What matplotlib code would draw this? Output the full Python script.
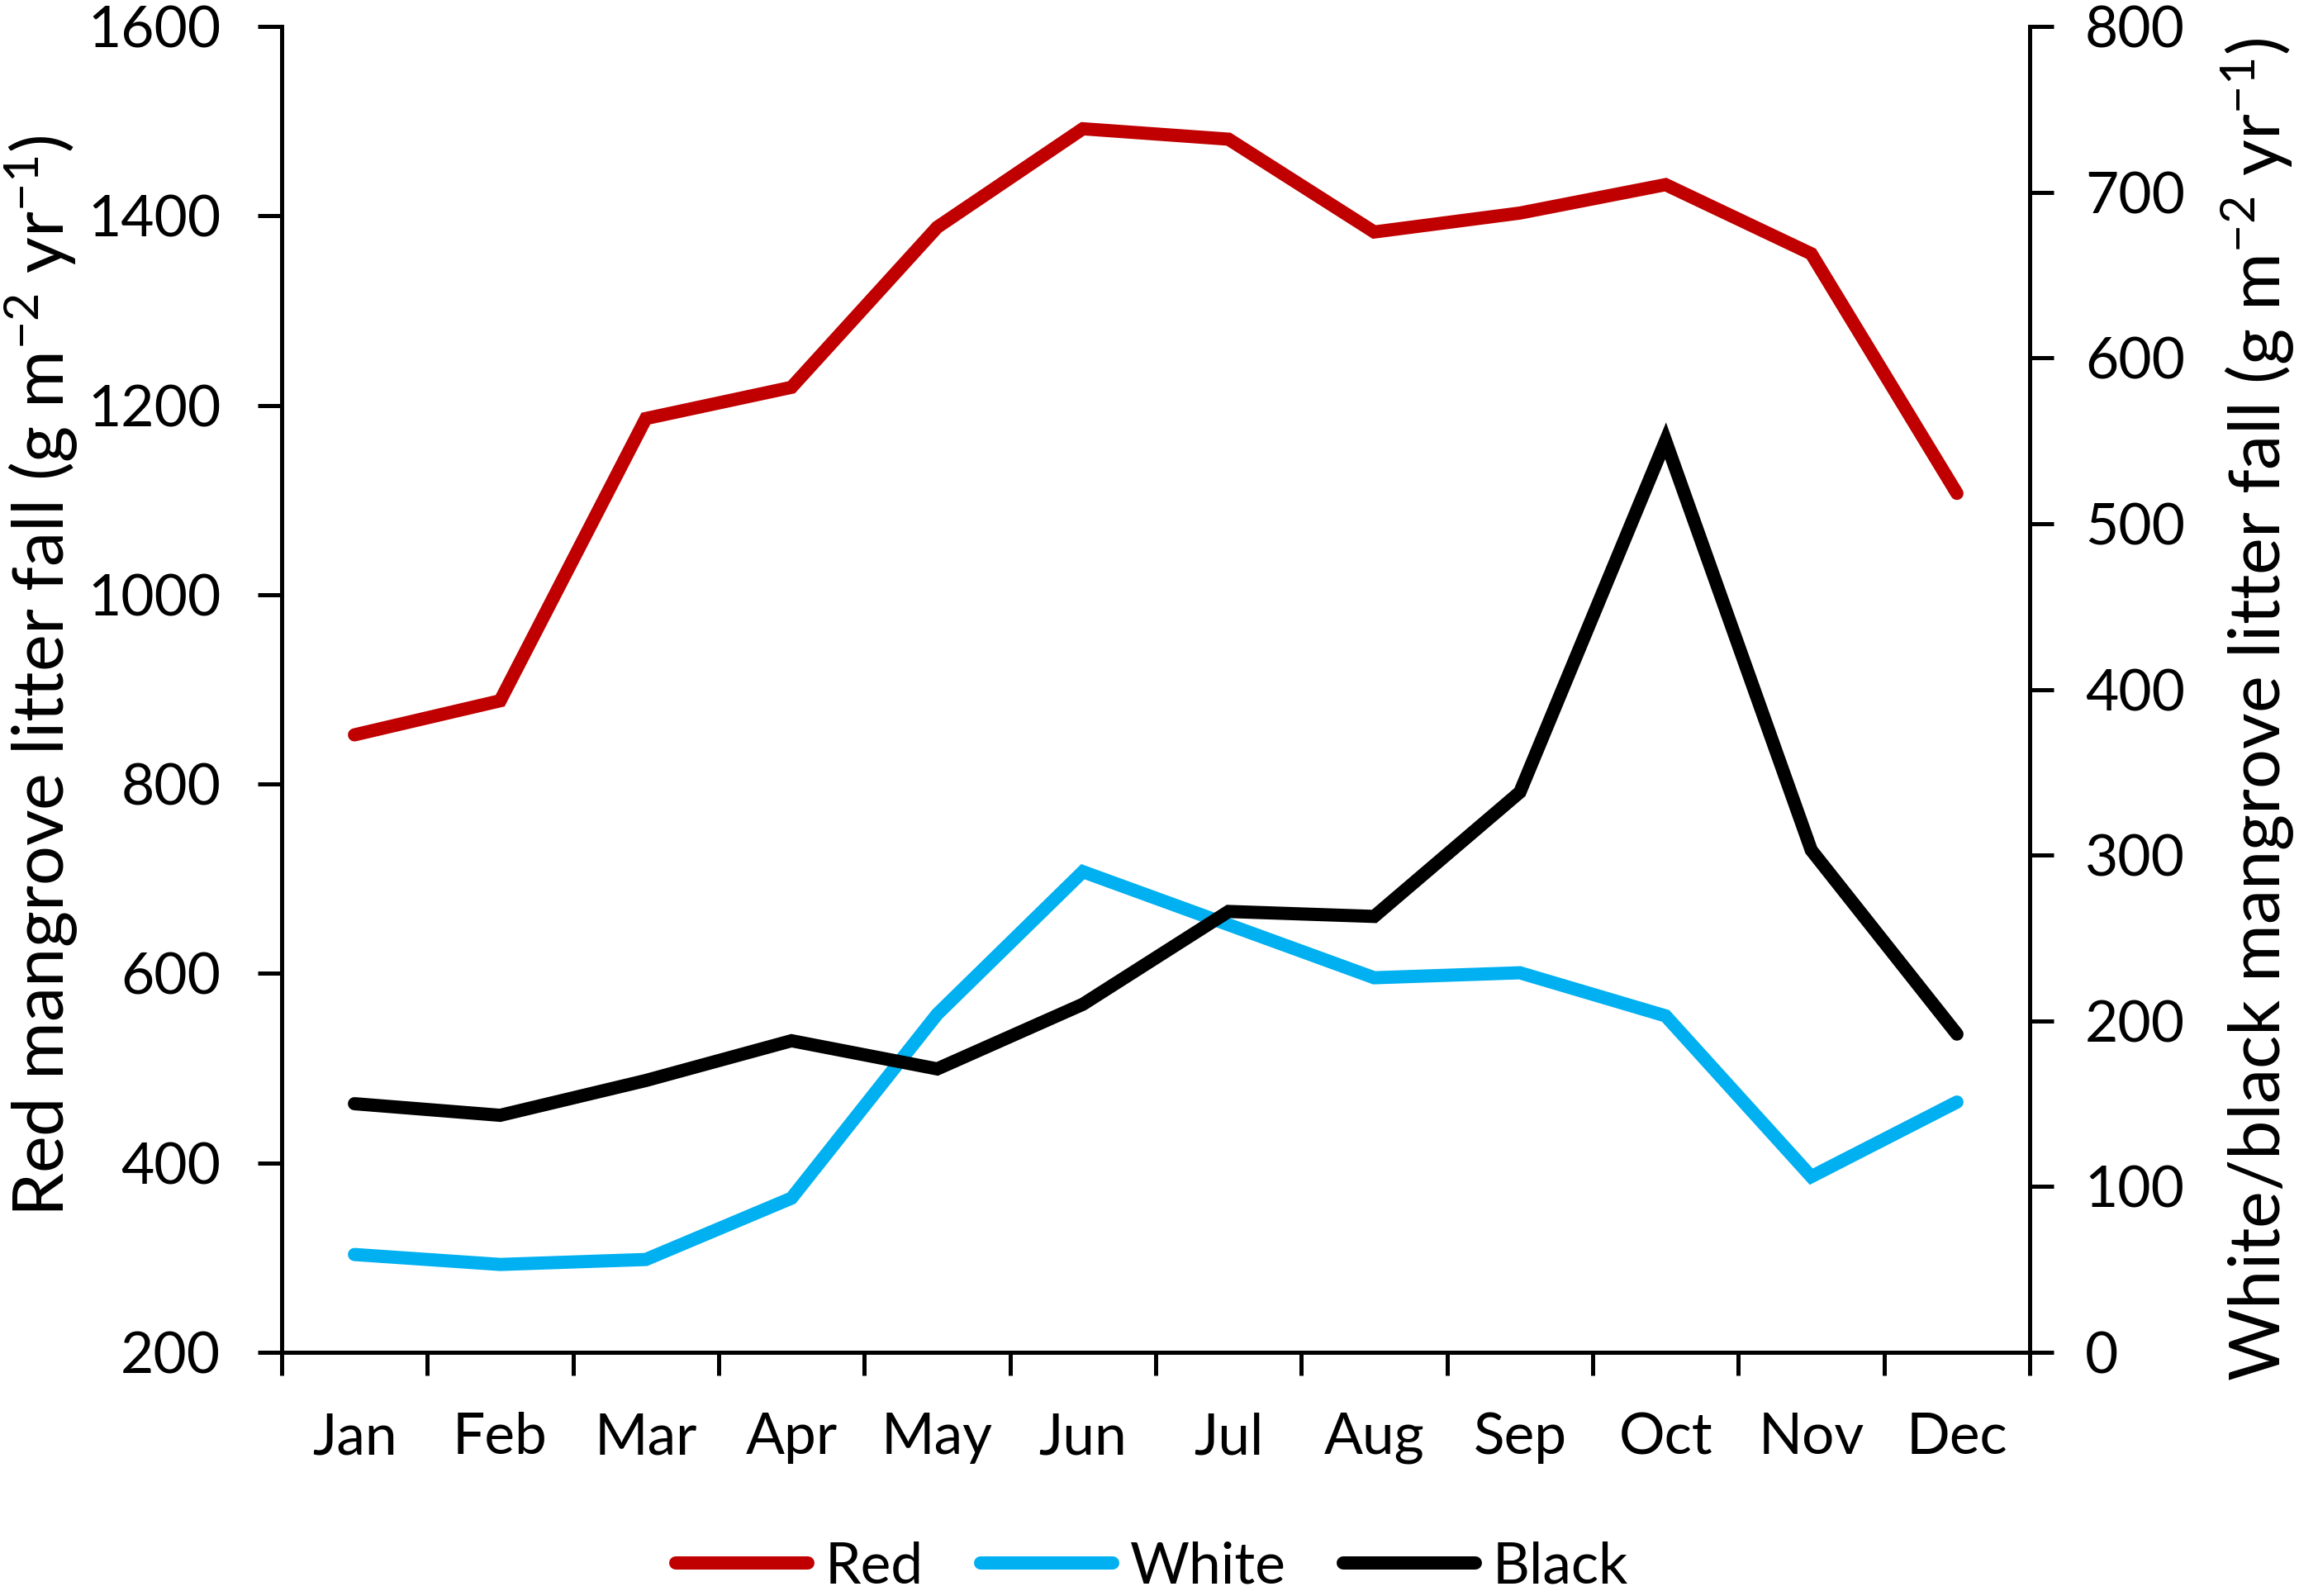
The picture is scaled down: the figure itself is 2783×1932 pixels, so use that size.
import matplotlib
matplotlib.use("Agg")
import matplotlib.pyplot as plt
from matplotlib.ticker import FixedLocator, NullFormatter, FixedFormatter

plt.rcParams['font.family'] = ['Lato', 'DejaVu Sans']
plt.rcParams['mathtext.default'] = 'regular'

# monthly litter fall values
months = ["Jan", "Feb", "Mar", "Apr", "May", "Jun",
          "Jul", "Aug", "Sep", "Oct", "Nov", "Dec"]
red = [852, 888, 1186, 1219, 1388, 1492, 1481, 1383, 1403, 1433, 1360, 1107]
white = [59, 53, 56, 93, 204, 290, 258, 226, 229, 203, 106, 151]
black = [150, 143, 164, 188, 171, 210, 266, 263, 338, 550, 303, 192]

left_ticks = [200, 400, 600, 800, 1000, 1200, 1400, 1600]
right_ticks = [0, 100, 200, 300, 400, 500, 600, 700, 800]

fs = 50
lab_fs = 61
lw = 11.5

fig = plt.figure(figsize=(27.83, 19.32), dpi=100)
ax = fig.add_axes([0.1225, 0.1527, 0.8829 - 0.1225, 0.9834 - 0.1527])
ax2 = ax.twinx()

x = list(range(len(months)))
l1, = ax.plot(x, red, color="#C00000", lw=lw, solid_capstyle="round",
              solid_joinstyle="miter", label="Red")
l2, = ax2.plot(x, white, color="#00B0F0", lw=lw, solid_capstyle="round",
               solid_joinstyle="miter", label="White")
l3, = ax2.plot(x, black, color="#000000", lw=lw, solid_capstyle="round",
               solid_joinstyle="miter", label="Black")

ax.set_xlim(-0.5, 11.5)
ax.set_ylim(200, 1600)
ax2.set_ylim(0, 800)
ax.set_yticks(left_ticks)
ax2.set_yticks(right_ticks)

# month boundaries get tick marks, month centres get labels
ax.xaxis.set_major_locator(FixedLocator([i - 0.5 for i in range(13)]))
ax.xaxis.set_major_formatter(NullFormatter())
ax.xaxis.set_minor_locator(FixedLocator(x))
ax.xaxis.set_minor_formatter(FixedFormatter(months))
ax.tick_params(axis="x", which="minor", length=0, pad=52, labelsize=fs)
ax.tick_params(axis="x", which="major", length=20, width=3.6, direction="out")
ax.tick_params(axis="y", length=21, width=3.6, direction="out", pad=32,
               labelsize=fs)
ax2.tick_params(axis="y", length=21, width=3.6, direction="out", pad=27,
                labelsize=fs)

for a in (ax, ax2):
    a.spines["top"].set_visible(False)
    for s in a.spines.values():
        s.set_linewidth(3.6)
ax.spines["right"].set_visible(False)

ax.set_ylabel("Red mangrove litter fall (g m$^{-2}$ yr$^{-1}$)",
              fontsize=lab_fs, va="center")
ax.yaxis.set_label_coords(-0.1375, 0.51)
ax2.set_ylabel("White/black mangrove litter fall (g m$^{-2}$ yr$^{-1}$)",
               fontsize=lab_fs, va="center", rotation=90)
ax2.yaxis.set_label_coords(1.1304, 0.485)

fig.legend(handles=[l1, l2, l3], loc="center", bbox_to_anchor=(0.501, 0.018),
           ncol=3, frameon=False, fontsize=fs, handlelength=2.3,
           handletextpad=0.3, columnspacing=1.0, borderpad=0)

fig.savefig("out.png", dpi=100)
